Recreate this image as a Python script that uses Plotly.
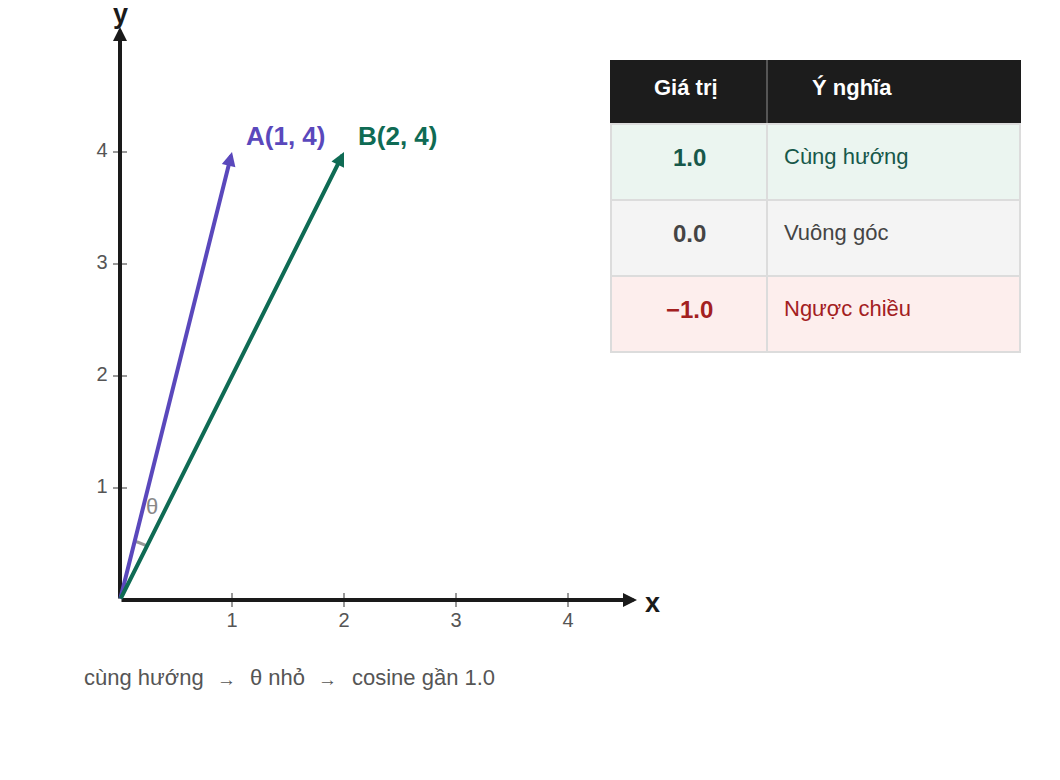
import numpy as np
import plotly.graph_objects as go

# vectors
vec_names = ["A", "B"]
vec_x = [1, 2]
vec_y = [4, 4]
vec_colors = ["#5a48bc", "#0f6b54"]

x_ticks = [1, 2, 3, 4]
y_ticks = [1, 2, 3, 4]

# table
table_header = ["Giá trị", "Ý nghĩa"]
table_values = ["1.0", "0.0", "−1.0"]
table_meaning = ["Cùng hướng", "Vuông góc", "Ngược chiều"]
row_fill = ["#ebf5f0", "#f4f4f4", "#fdeeed"]
row_text = ["#17584a", "#444444", "#a3201f"]

caption_parts = ["cùng hướng", "→", "θ nhỏ", "→", "cosine gần 1.0"]

W, H = 1060, 780
PAGE = 8  # body margin of the html page
OX, OY, UNIT = 120, 600, 112  # origin in page pixels, px per unit
FONT = "Liberation Sans, Arial, sans-serif"


def px(x):
    return (x - OX) / UNIT


def py(y):
    return (OY - y) / UNIT


fig = go.Figure()

# tick marks on axes
fig.add_trace(go.Scatter(x=x_ticks, y=[0] * len(x_ticks), mode="markers",
                         marker=dict(symbol="line-ns-open", size=10, color="#999999",
                                     line=dict(color="#999999", width=2)),
                         hoverinfo="skip", showlegend=False))
fig.add_trace(go.Scatter(x=[0] * len(y_ticks), y=y_ticks, mode="markers",
                         marker=dict(symbol="line-ew-open", size=10, color="#999999",
                                     line=dict(color="#999999", width=2)),
                         hoverinfo="skip", showlegend=False))

# tick labels
fig.add_trace(go.Scatter(x=x_ticks, y=[py(622)] * len(x_ticks), mode="text",
                         text=[str(t) for t in x_ticks], textfont=dict(family=FONT, size=20, color="#555555"),
                         hoverinfo="skip", showlegend=False))
fig.add_trace(go.Scatter(x=[px(102)] * len(y_ticks), y=y_ticks, mode="text",
                         text=[str(t) for t in y_ticks], textfont=dict(family=FONT, size=20, color="#555555"),
                         hoverinfo="skip", showlegend=False))

# angle arc between the vectors
a1 = np.arctan2(vec_y[0], vec_x[0])
a2 = np.arctan2(vec_y[1], vec_x[1])
t = np.linspace(a2, a1, 20)
r = 0.54
fig.add_trace(go.Scatter(x=r * np.cos(t), y=r * np.sin(t), mode="lines",
                         line=dict(color="#999999", width=3), hoverinfo="skip", showlegend=False))

annotations = []
# axes with arrow heads
annotations.append(dict(x=px(637), y=0, ax=0, ay=0, xref="x", yref="y", axref="x", ayref="y",
                        showarrow=True, arrowhead=2, arrowsize=0.7, arrowwidth=4, arrowcolor="#1a1a1a", text=""))
annotations.append(dict(x=0, y=py(27), ax=0, ay=0, xref="x", yref="y", axref="x", ayref="y",
                        showarrow=True, arrowhead=2, arrowsize=0.7, arrowwidth=4, arrowcolor="#1a1a1a", text=""))
annotations.append(dict(x=px(652), y=py(603), text="<b>x</b>", showarrow=False,
                        font=dict(family=FONT, size=27, color="#1a1a1a")))
annotations.append(dict(x=0, y=1, yref="paper", yanchor="middle", yshift=-6, text="<b>y</b>", showarrow=False,
                        font=dict(family=FONT, size=27, color="#1a1a1a")))

# vectors
for name, vx, vy, c in zip(vec_names, vec_x, vec_y, vec_colors):
    annotations.append(dict(x=vx, y=vy, ax=0, ay=0, xref="x", yref="y", axref="x", ayref="y",
                            showarrow=True, arrowhead=2, arrowsize=0.7, arrowwidth=4, arrowcolor=c, text=""))
    annotations.append(dict(x=vx, y=vy, xshift=12, yshift=16, xanchor="left", showarrow=False,
                            text="<b>%s(%d, %d)</b>" % (name, vx, vy),
                            font=dict(family=FONT, size=26, color=c)))

annotations.append(dict(x=px(152), y=py(506), text="θ", showarrow=False,
                        font=dict(family=FONT, size=22, color="#888888")))

# caption
cap_x = [82, 215, 248, 316, 350]
for part, cx in zip(caption_parts, cap_x):
    arrow = part == "→"
    annotations.append(dict(x=px(cx), y=py(679 if arrow else 677), xanchor="left", text=part, showarrow=False,
                            font=dict(family=FONT, size=19 if arrow else 22, color="#555555")))

# table
shapes = []
col_l, col_m, col_r = 611, 767, 1020
head_t, head_b = 60, 124
row_h = 76
shapes.append(dict(type="rect", xref="x", yref="y", x0=px(col_l - 1), x1=px(col_r + 1),
                   y0=py(head_t), y1=py(head_b), fillcolor="#1c1c1c", line=dict(width=0), layer="above"))
shapes.append(dict(type="line", xref="x", yref="y", x0=px(col_m), x1=px(col_m),
                   y0=py(head_t), y1=py(head_b), line=dict(color="#555555", width=2), layer="above"))
annotations.append(dict(x=px(686), y=py(87), text="<b>%s</b>" % table_header[0], showarrow=False,
                        font=dict(family=FONT, size=22, color="white")))
annotations.append(dict(x=px(810), y=py(87), xanchor="left", text="<b>%s</b>" % table_header[1],
                        showarrow=False, font=dict(family=FONT, size=22, color="white")))

for i, (val, mean) in enumerate(zip(table_values, table_meaning)):
    top = head_b + i * row_h
    for x0, x1 in [(col_l, col_m), (col_m, col_r)]:
        shapes.append(dict(type="rect", xref="x", yref="y", x0=px(x0), x1=px(x1),
                           y0=py(top), y1=py(top + row_h), fillcolor=row_fill[i],
                           line=dict(color="#dcdcdc", width=2), layer="above"))
    annotations.append(dict(x=px(689), y=py(top + 33), text="<b>%s</b>" % val, showarrow=False,
                            font=dict(family=FONT, size=24, color=row_text[i])))
    annotations.append(dict(x=px(782), y=py(top + 32), xanchor="left", text=mean, showarrow=False,
                            font=dict(family=FONT, size=22, color=row_text[i])))

fig.update_layout(
    width=W, height=H, autosize=False,
    margin=dict(l=0, r=0, t=0, b=0),
    paper_bgcolor="white", plot_bgcolor="white",
    xaxis=dict(range=[px(PAGE), px(PAGE + W)], visible=False, fixedrange=True),
    yaxis=dict(range=[py(PAGE + H), py(PAGE)], visible=False, fixedrange=True),
    shapes=shapes, annotations=annotations, showlegend=False,
)

fig.write_html("out.html")
